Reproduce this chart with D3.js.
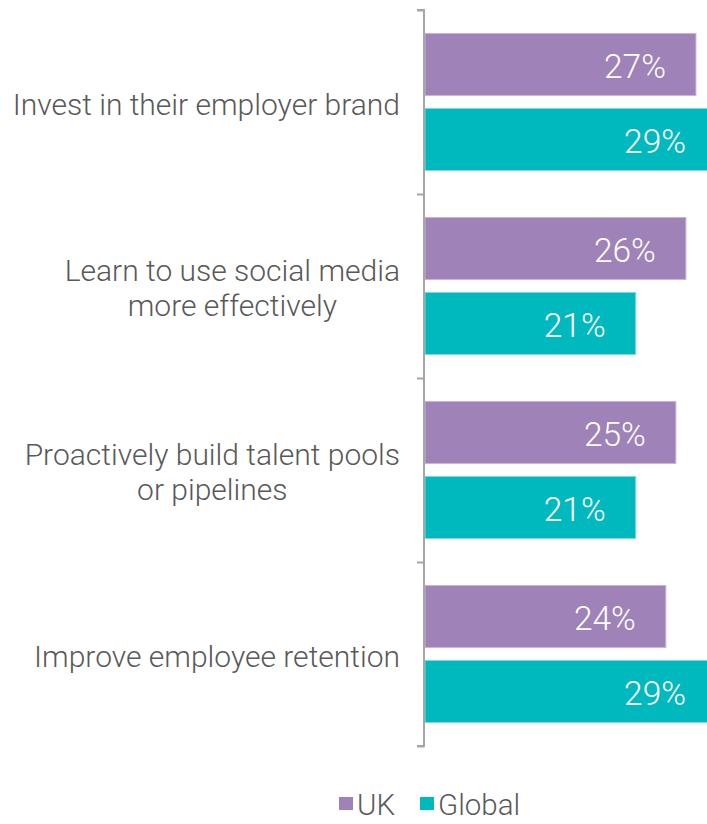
<!DOCTYPE html>
<html>
<head>
<meta charset="utf-8">
<script src="https://cdn.jsdelivr.net/npm/d3@7"></script>
<style>
  html, body { margin: 0; padding: 0; background: #ffffff; }
  svg { display: block; }
  text { font-family: Roboto, "Liberation Sans", Arial, sans-serif; font-weight: 300; }
</style>
</head>
<body>
<svg id="chart" width="707" height="824"></svg>
<script>
// Survey answers, one entry per category (label lines) with UK and Global shares
const categories = [
  ["Invest in their employer brand"],
  ["Learn to use social media", "more effectively"],
  ["Proactively build talent pools", "or pipelines"],
  ["Improve employee retention"]
];
const seriesNames = ["UK", "Global"];
const ukValues = [27, 26, 25, 24];
const globalValues = [29, 21, 21, 29];
const colors = ["#9e82b8", "#00b9bf"];
const strokes = ["#c7b6d8", "#7fd8db"];

const svg = d3.select("#chart");
const axisX = 424;

const y = d3.scaleBand()
  .domain(d3.range(categories.length))
  .range([10, 746])
  .paddingInner(0)
  .paddingOuter(0);

const ySub = d3.scaleBand()
  .domain(seriesNames)
  .range([0, y.bandwidth()])
  .paddingInner(13 / 75)
  .paddingOuter(0.3133);

const x = d3.scaleLinear().domain([0, 29]).range([axisX + 1, axisX + 1 + 291]);

const rows = categories.map((c, i) => ({
  i, lines: c,
  values: [
    { s: "UK", v: ukValues[i], k: 0 },
    { s: "Global", v: globalValues[i], k: 1 }
  ]
}));

// bars
const g = svg.selectAll("g.cat").data(rows).join("g")
  .attr("class", "cat")
  .attr("transform", d => `translate(0,${y(d.i)})`);

g.selectAll("rect").data(d => d.values).join("rect")
  .attr("x", x(0))
  .attr("y", d => ySub(d.s))
  .attr("width", d => x(d.v) - x(0))
  .attr("height", ySub.bandwidth())
  .attr("fill", d => colors[d.k])
  .attr("stroke", d => strokes[d.k])
  .attr("stroke-width", 1);

g.selectAll("text.val").data(d => d.values).join("text")
  .attr("class", "val")
  .attr("x", d => x(d.v) - 30)
  .attr("y", d => ySub(d.s) + ySub.bandwidth() / 2)
  .attr("dy", "0.4em")
  .attr("text-anchor", "end")
  .attr("fill", "#ffffff")
  .attr("font-size", 33.5)
  .text(d => d.v + "%");

// axis line with ticks between categories
const axis = d3.axisLeft(
  d3.scaleLinear().domain([0, categories.length]).range([10, 746])
).ticks(categories.length).tickSize(7).tickFormat("");

const ax = svg.append("g")
  .attr("transform", `translate(${axisX},0)`)
  .call(axis);
ax.select(".domain").attr("stroke", "#a6a6a6").attr("stroke-width", 2)
  .attr("d", "M-7,10H0V746H-7");
ax.selectAll(".tick line").attr("stroke", "#a6a6a6").attr("stroke-width", 2);

// category labels, lines centred within a right-aligned block
const lineH = 35;
const labelRight = 400;
rows.forEach(r => {
  const cy = y(r.i) + y.bandwidth() / 2 + 2;
  const n = r.lines.length;
  const t = svg.append("text")
    .attr("font-size", 30)
    .attr("fill", "#595959")
    .attr("text-anchor", "middle");
  const spans = r.lines.map((ln, j) => t.append("tspan")
    .attr("y", cy + (j - (n - 1) / 2) * lineH)
    .attr("dy", "0.36em")
    .text(ln));
  const widths = spans.map(s => s.node().getComputedTextLength());
  const maxW = d3.max(widths);
  spans.forEach(s => s.attr("x", labelRight - maxW / 2));
});

// legend
const legend = svg.append("g").attr("transform", "translate(339,797)");
const legX = [0, 81];
seriesNames.forEach((s, k) => {
  legend.append("rect")
    .attr("x", legX[k]).attr("y", 0)
    .attr("width", 14).attr("height", 13)
    .attr("fill", colors[k]);
  legend.append("text")
    .attr("x", legX[k] + 18).attr("y", 18)
    .attr("font-size", 29.5)
    .attr("fill", "#595959")
    .text(s);
});
</script>
</body>
</html>
